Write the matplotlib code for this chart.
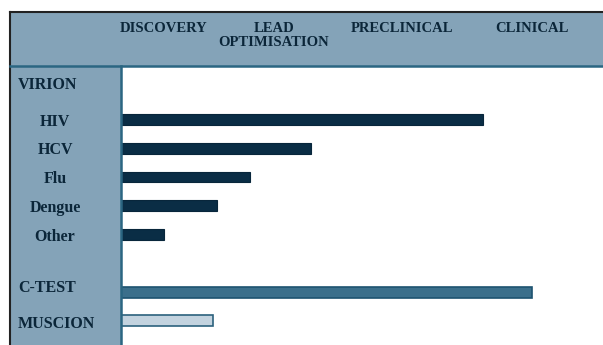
import matplotlib
matplotlib.use("Agg")
import matplotlib.pyplot as plt
from matplotlib.patches import Rectangle
from matplotlib.lines import Line2D
from matplotlib.transforms import blended_transform_factory

# Pipeline stages (x axis runs 0..4, one unit per stage)
stages = ["DISCOVERY", "LEAD\nOPTIMISATION", "PRECLINICAL", "CLINICAL"]
stage_centers = [0.35, 1.27, 2.33, 3.41]

# Programmes and how far along the pipeline each one is
virion_items = ["HIV", "HCV", "Flu", "Dengue", "Other"]
virion_values = [3.00, 1.58, 1.07, 0.80, 0.36]
ctest_value = 3.41
muscion_value = 0.76

# colours
panel = "#84a3b8"
dark_bar = "#0a2d45"
mid_bar = "#3b6f8b"
light_bar = "#c3d3df"
text_col = "#0b2639"
rule_col = "#2b6682"

W, H = 603, 345
fig = plt.figure(figsize=(W / 100, H / 100), dpi=100)
fig.patch.set_facecolor("white")

def fx(px):
    return px / W

def fy(py):
    return 1 - py / H

# header band and left panel (drawn underneath the axes)
fig.patches.append(Rectangle((fx(10), fy(66)), 1 - fx(10), fy(12) - fy(66),
                             transform=fig.transFigure, facecolor=panel, edgecolor="none", zorder=-2))
fig.patches.append(Rectangle((fx(10), 0), fx(121) - fx(10), fy(66),
                             transform=fig.transFigure, facecolor=panel, edgecolor="none", zorder=-2))

ax = fig.add_axes([fx(121), 0, 1 - fx(121), fy(66)])
ax.set_xlim(0, 4)
ax.set_ylim(7.84, -1.86)
ax.axis("off")

bar_h = 0.38
virion_y = list(range(len(virion_items)))
ctest_y = len(virion_items) + 1
muscion_y = ctest_y + 1

ax.barh(virion_y, virion_values, height=bar_h, color=dark_bar,
        edgecolor="#08263b", linewidth=0.8)
ax.barh([ctest_y], [ctest_value], height=bar_h, color=mid_bar,
        edgecolor="#1d5370", linewidth=1.2)
ax.barh([muscion_y], [muscion_value], height=bar_h, color=light_bar,
        edgecolor="#2c617d", linewidth=1.2)

font = dict(family="Liberation Serif", weight="bold", color=text_col)

# stage headers
hdr = blended_transform_factory(ax.transData, fig.transFigure)
for name, xc in zip(stages, stage_centers):
    ax.text(xc, fy(21.5), name, transform=hdr, ha="center", va="top",
            fontsize=10.5, linespacing=1.2, clip_on=False, **font)

# row labels in the left panel
rows = blended_transform_factory(fig.transFigure, ax.transData)
dy = 0.07
ax.text(fx(18), -1.27 + dy, "VIRION", transform=rows, ha="left", va="center",
        fontsize=11.5, clip_on=False, **font)
for name, y in zip(virion_items, virion_y):
    ax.text(fx(55), y + dy, name, transform=rows, ha="center", va="center",
            fontsize=11.5, clip_on=False, **font)
ax.text(fx(18), ctest_y - 0.2 + dy, "C-TEST", transform=rows, ha="left", va="center",
        fontsize=11.5, clip_on=False, **font)
ax.text(fx(18), muscion_y + 0.05 + dy, "MUSCION", transform=rows, ha="left", va="center",
        fontsize=11.5, clip_on=False, **font)

# frame lines
fig.lines.append(Line2D([fx(10), 1], [fy(12), fy(12)], transform=fig.transFigure,
                        color="#222222", linewidth=1.5))
fig.lines.append(Line2D([fx(10), fx(10)], [fy(12), 0], transform=fig.transFigure,
                        color="#222222", linewidth=1.5))
fig.lines.append(Line2D([fx(10), 1], [fy(66), fy(66)], transform=fig.transFigure,
                        color=rule_col, linewidth=1.8))
fig.lines.append(Line2D([fx(121), fx(121)], [fy(66), 0], transform=fig.transFigure,
                        color=rule_col, linewidth=1.8))

fig.savefig("out.png", dpi=100, facecolor="white")
